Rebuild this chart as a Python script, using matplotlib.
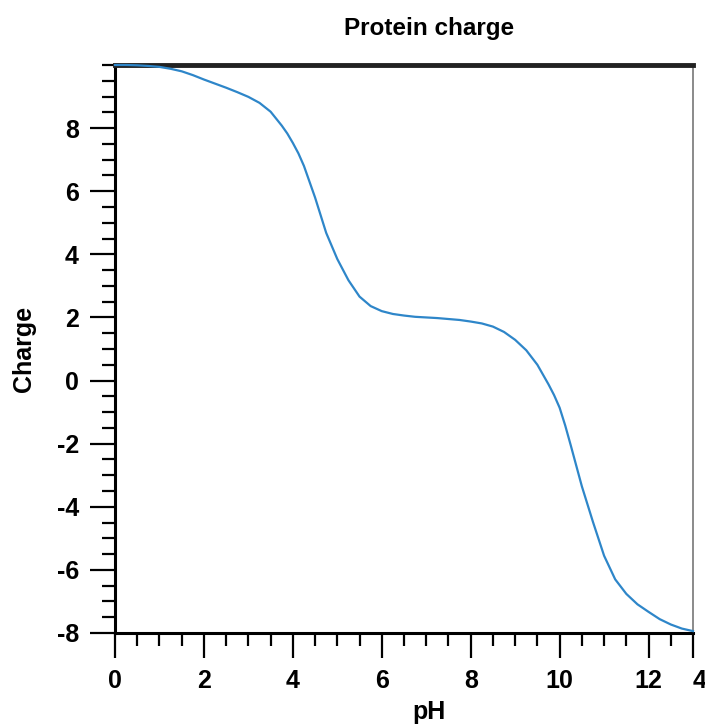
import numpy as np
import matplotlib.pyplot as plt
from matplotlib.ticker import MultipleLocator, FixedLocator

plt.rcParams['font.family'] = ['Liberation Sans', 'DejaVu Sans']
plt.rcParams['font.weight'] = 'bold'
plt.rcParams['axes.unicode_minus'] = False

# curve
ph = [0, 0.25, 0.5, 0.75, 1, 1.25, 1.5, 1.75, 2, 2.25, 2.5, 2.75, 3, 3.25,
      3.5, 3.75, 3.875, 4, 4.125, 4.25, 4.5, 4.75, 5, 5.25, 5.5, 5.75, 6, 6.25,
      6.5, 6.75, 7, 7.25, 7.5, 7.75, 8, 8.25, 8.5, 8.75, 9, 9.25, 9.5, 9.75,
      9.875, 10, 10.125, 10.25, 10.5, 10.75, 11, 11.25, 11.5, 11.75, 12,
      12.25, 12.5, 12.75, 13]
charge = [10.0, 10.0, 9.99, 9.97, 9.94, 9.88, 9.80, 9.68, 9.54, 9.41, 9.28,
          9.14, 8.99, 8.80, 8.52, 8.08, 7.83, 7.53, 7.2, 6.8, 5.8, 4.68, 3.85,
          3.18, 2.66, 2.36, 2.20, 2.11, 2.06, 2.02, 2.0, 1.98, 1.95, 1.92, 1.87,
          1.81, 1.71, 1.54, 1.29, 0.96, 0.50, -0.12, -0.46, -0.86, -1.42, -2.05,
          -3.35, -4.48, -5.55, -6.3, -6.76, -7.09, -7.33, -7.56, -7.73, -7.86,
          -7.94]

xticks = [0, 2, 4, 6, 8, 10, 12, 13]
xticklabels = ['0', '2', '4', '6', '8', '10', '12', '4']
yticks = [-8, -6, -4, -2, 0, 2, 4, 6, 8]

fig = plt.figure(figsize=(7.05, 7.26), dpi=100)
ax = fig.add_axes([115/705, 93/726, 578/705, 568/726])

ax.plot(ph, charge, color='#2e86c9', lw=1.6, zorder=3, clip_on=False,
        solid_joinstyle='round')

ax.set_xlim(0, 13)
ax.set_ylim(-8, 10)

ax.xaxis.set_major_locator(FixedLocator(xticks))
ax.set_xticklabels(xticklabels)
ax.xaxis.set_minor_locator(MultipleLocator(0.5))
ax.set_yticks(yticks)
ax.yaxis.set_minor_locator(MultipleLocator(0.5))

ax.tick_params(which='major', length=18, width=1.6, direction='out',
               labelsize=18, pad=8)
ax.tick_params(which='minor', length=9.5, width=1.6, direction='out')
ax.xaxis.get_majorticklabels()[-1].set_horizontalalignment('left')

ax.spines['left'].set_linewidth(2.2)
ax.spines['bottom'].set_linewidth(2.2)
ax.spines['top'].set_linewidth(3.5)
ax.spines['top'].set_color('#222222')
ax.spines['right'].set_linewidth(1.2)
ax.spines['right'].set_color('#777777')

ax.set_xlabel('pH', fontsize=18, fontweight='bold', va='center')
ax.set_ylabel('Charge', fontsize=18, fontweight='bold', va='center')
ax.xaxis.set_label_coords((429 - 115) / 578, -79 / 568)
ax.yaxis.set_label_coords((24 - 115) / 578, 0.5)

fig.text(429/705, 1 - 29/726, 'Protein charge', fontsize=17.5, fontweight='bold',
         ha='center', va='center')

fig.savefig('out.png', dpi=100)
